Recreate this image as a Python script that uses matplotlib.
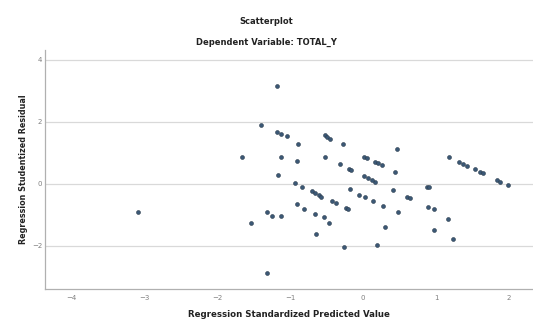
import matplotlib
matplotlib.use("Agg")
import matplotlib.pyplot as plt

x_pred = [-1.40, -1.66, -3.09, -1.54, -1.31, -1.31, -1.18,
          -1.18, -1.13, -1.04, -0.89, -1.13, -0.91, -1.17,
          -0.52, -0.50, -0.45, -0.28, -0.52, -0.31, -0.19, -0.17,
          0.46, 0.02, 0.06, 0.16, 0.21, 0.26, 0.44, 0.02, 0.07, 0.16, 0.12,
          1.18, 1.32, 1.37, 1.42, 1.53, 1.60, 1.64, 1.84, 1.88, 1.99,
          0.87, 0.91, -0.93, -0.83, -0.70, -0.66, -0.61, -0.57,
          -0.43, -0.37, -0.23, -0.20, -0.18, -0.05, 0.03, 0.14, 0.27,
          0.41, 0.60, 0.65, 0.48, 0.30, 0.19, -0.26, -0.64,
          -0.91, -0.81, -0.66, -0.53, -0.46, -1.25, -1.13,
          0.89, 0.97, 1.16, 0.97, 1.23]
y_resid = [1.90, 0.86, -0.91, -1.25, -0.89, -2.86, 3.16,
           1.69, 1.60, 1.55, 1.28, 0.88, 0.74, 0.30,
           1.58, 1.51, 1.44, 1.28, 0.86, 0.65, 0.47, 0.45,
           1.12, 0.86, 0.85, 0.72, 0.67, 0.62, 0.40, 0.26, 0.18, 0.07, 0.13,
           0.86, 0.70, 0.65, 0.58, 0.47, 0.40, 0.35, 0.13, 0.07, -0.05,
           -0.09, -0.11, 0.04, -0.09, -0.23, -0.30, -0.35, -0.41,
           -0.55, -0.62, -0.78, -0.81, -0.17, -0.35, -0.41, -0.54, -0.71,
           -0.19, -0.41, -0.46, -0.92, -1.38, -1.97, -2.02, -1.62,
           -0.66, -0.82, -0.97, -1.08, -1.25, -1.03, -1.05,
           -0.73, -0.82, -1.14, -1.48, -1.78]
x_ticks = [-4, -3, -2, -1, 0, 1, 2]
y_ticks = [-2, 0, 2, 4]

fig = plt.figure(figsize=(5.33, 3.22), dpi=100)
ax = fig.add_axes([45/533, 1-289/322, 488/533, 239/322])
ax.scatter(x_pred, y_resid, s=8, color='#3b5876', edgecolors='#2a3a4a',
           linewidths=0.4, zorder=3)
ax.set_xlim(-4.36, 2.33)
ax.set_ylim(-3.39, 4.32)
ax.set_xticks(x_ticks)
ax.set_yticks(y_ticks)
ax.yaxis.grid(True, color='#d9d9d9', linewidth=0.9)
ax.set_axisbelow(True)
for s in ['top', 'right']:
    ax.spines[s].set_visible(False)
for s in ['left', 'bottom']:
    ax.spines[s].set_color('#b0b0b0')
    ax.spines[s].set_linewidth(0.9)
ax.tick_params(axis='both', length=0, labelsize=5, labelcolor='#808080')
ax.tick_params(axis='y', pad=2)
ax.tick_params(axis='x', pad=4)
ax.set_xlabel('Regression Standardized Predicted Value', fontsize=6.2,
              fontweight='bold', color='#222222', labelpad=7)
ax.set_ylabel('Regression Studentized Residual', fontsize=5.8,
              fontweight='bold', color='#222222', labelpad=3)
fig.text(0.5, 1-22/322, 'Scatterplot', ha='center', va='center',
         fontsize=6, fontweight='bold', color='#222222')
fig.text(0.5, 1-42/322, 'Dependent Variable: TOTAL_Y', ha='center', va='center',
         fontsize=6, fontweight='bold', color='#222222')
fig.savefig('out.png', dpi=100)
